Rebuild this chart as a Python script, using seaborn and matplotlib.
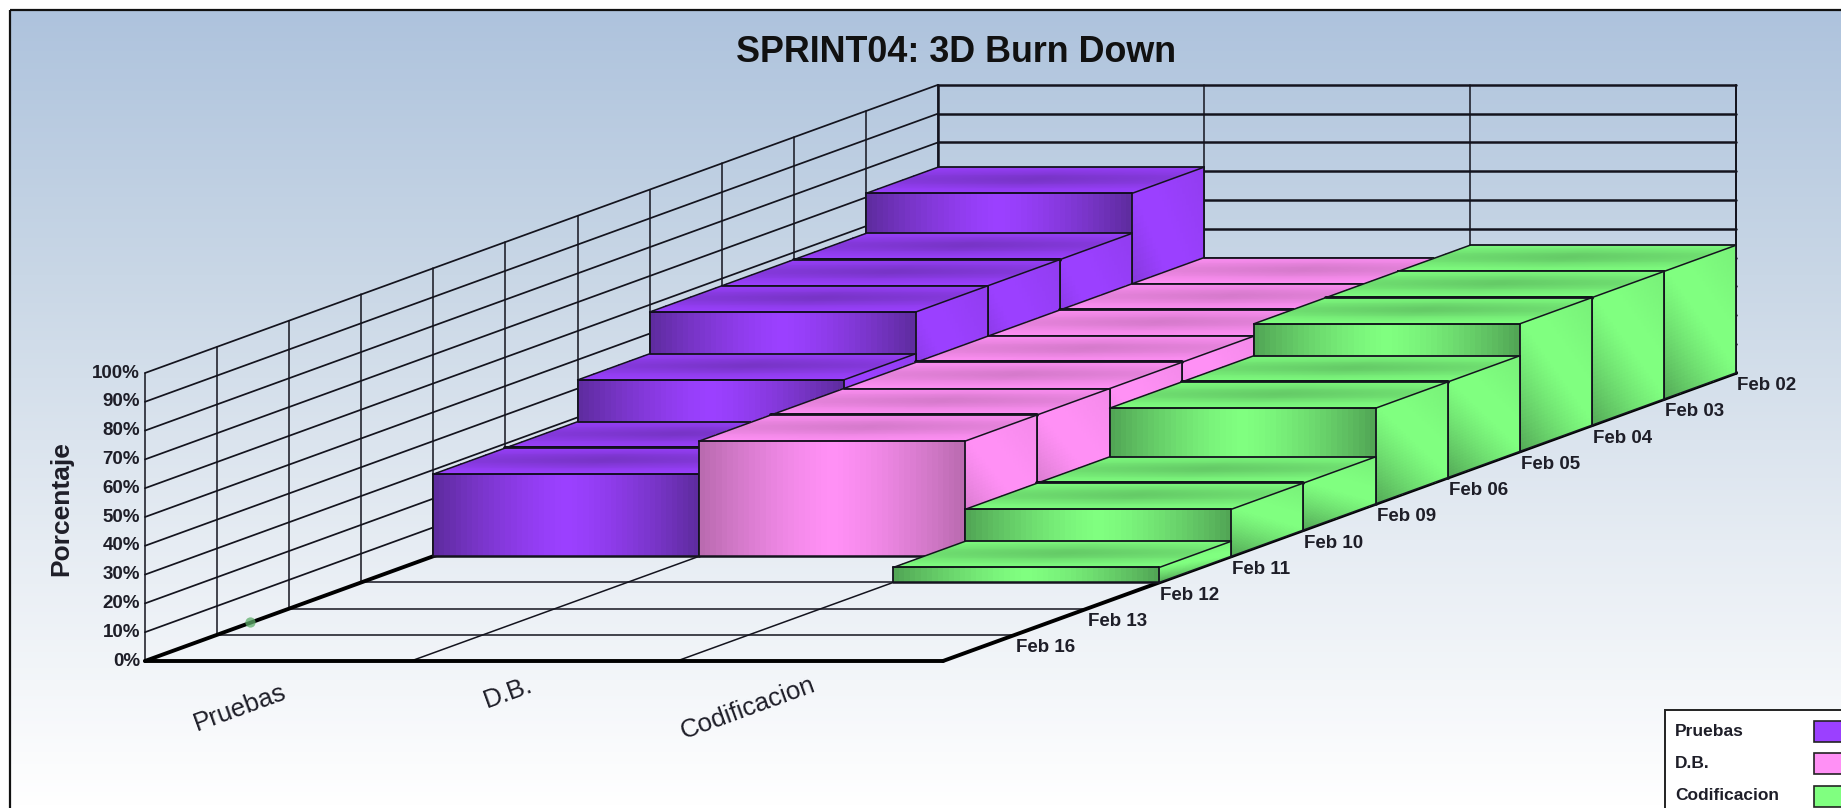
import numpy as np
import seaborn as sns
import matplotlib
matplotlib.use("Agg")
import matplotlib.pyplot as plt
from matplotlib.patches import Rectangle

# ---- data -------------------------------------------------------------
dates = ["Feb 02", "Feb 03", "Feb 04", "Feb 05", "Feb 06", "Feb 09",
         "Feb 10", "Feb 11", "Feb 12", "Feb 13", "Feb 16"]
categories = ["Pruebas", "D.B.", "Codificacion"]
pruebas = [71.4, 57.5, 57.5, 57.5, 43.0, 28.5, 28.5, 0, 0, 0, 0]
db = [40, 40, 40, 40, 40, 40, 40, 0, 0, 0, 0]
codificacion = [44.3, 44.3, 44.3, 33.2, 33.2, 16.3, 16.3, 5.2, 0, 0, 0]
y_ticks = [0, 10, 20, 30, 40, 50, 60, 70, 80, 90, 100]
title = "SPRINT04: 3D Burn Down"
y_label = "Porcentaje"

bright = ["#9B40FF", "#FF90F5", "#80FF80"]
dark = ["#5A2A98", "#B468AA", "#4E9F52"]

# ---- oblique projection of (category, depth, percent) on the canvas ----
W, H = 1841, 808
X0, Y0 = 145.0, 661.0
CAT_DX = 266.0
DEPTH_DX, DEPTH_DY = 72.1, 26.2
PCT_DY = 2.88


def proj(cat, depth, pct):
    return X0 + cat * CAT_DX + depth * DEPTH_DX, Y0 - depth * DEPTH_DY - pct * PCT_DY


sns.set_theme(style="white")
plt.rcParams["font.family"] = ["Liberation Sans", "DejaVu Sans"]
fig = plt.figure(figsize=(W / 100, H / 100), dpi=100)
fig.patch.set_facecolor("white")
ax = fig.add_axes([0, 0, 1, 1])
ax.set_xlim(0, W)
ax.set_ylim(H, 0)
ax.axis("off")

# background
bg_cmap = sns.blend_palette(["#AEC3DD", "#C9D7E6", "#E6ECF3", "#FFFFFF"], as_cmap=True)
bg = ax.imshow(np.linspace(0, 1, 256)[:, None], cmap=bg_cmap, aspect="auto",
               extent=(10, W, H, 10), zorder=0)
ax.set_xlim(0, W)
ax.set_ylim(H, 0)
ax.add_patch(Rectangle((10, 10), W, H, fill=False, ec="#111111", lw=1.6, zorder=1))

LINE = "#14141E"
z = 2
n_d = len(dates)
n_c = len(categories)


def seg(a, b, lw=1.0, color=LINE):
    global z
    ax.plot([a[0], b[0]], [a[1], b[1]], color=color, lw=lw, solid_capstyle="round", zorder=z)
    z += 0.001


# left wall
for t in y_ticks:
    seg(proj(0, 0, t), proj(0, n_d, t), 1.25)
for d in range(0, n_d + 1):
    seg(proj(0, d, 0), proj(0, d, 100), 1.1)
# back wall
for t in y_ticks:
    seg(proj(0, n_d, t), proj(n_c, n_d, t), 1.8)
for c in range(0, n_c + 1):
    seg(proj(c, n_d, 0), proj(c, n_d, 100), 1.1 if 0 < c else 1.8)
seg(proj(n_c, n_d, 0), proj(n_c, n_d, 100), 1.4)
# floor
for d in range(1, n_d):
    seg(proj(0, d, 0), proj(n_c, d, 0), 1.1)
for c in range(1, n_c):
    seg(proj(c, 0, 0), proj(c, n_d, 0), 1.1)
seg(proj(0, 0, 0), proj(n_c, 0, 0), 2.8, "black")
seg(proj(0, 0, 0), proj(0, n_d, 0), 2.8, "black")
seg(proj(n_c, 0, 0), proj(n_c, n_d, 0), 2.8, "black")

# tiny green speck on the floor
sx, sy = proj(0, 1.5, 0)
ax.scatter([sx - 3], [sy], s=55, marker="o", color="#5FAE6A", alpha=0.75, lw=0, zorder=z)
z += 0.001


def face(p00, p10, p01, p11, cmap, shade, nu=48, nv=32):
    """Paint a parallelogram with shade(u, v) sampled on its surface."""
    global z
    u, v = np.meshgrid(np.linspace(0, 1, nu + 1), np.linspace(0, 1, nv + 1))
    px = np.array([p00[0], p10[0], p01[0], p11[0]])
    py = np.array([p00[1], p10[1], p01[1], p11[1]])
    wts = [(1 - u) * (1 - v), u * (1 - v), (1 - u) * v, u * v]
    X = sum(w * p for w, p in zip(wts, px))
    Y = sum(w * p for w, p in zip(wts, py))
    uc = (u[:-1, :-1] + u[1:, 1:]) / 2
    vc = (v[:-1, :-1] + v[1:, 1:]) / 2
    ax.pcolormesh(X, Y, shade(uc, vc), cmap=cmap, vmin=0, vmax=1, shading="flat",
                  linewidth=0, antialiased=False, zorder=z)
    z += 0.001


def front_shade(u, v):
    return np.clip(np.abs(2 * u - 1) ** 1.4 * 0.95, 0, 1)


def top_shade(u, v):
    return np.clip(0.55 * np.exp(-((v - 0.45) / 0.34) ** 2) * (1 - 0.35 * np.abs(2 * u - 1)), 0, 1)


def side_shade(u, v):
    diag = u + (1 - v)
    return np.clip(0.9 * np.clip(1 - diag * 0.95, 0, 1) ** 1.2 + 0.22 * np.clip(diag - 1.3, 0, 1), 0, 1)


series = [pruebas, db, codificacion]
for c, values in enumerate(series):
    cmap = sns.blend_palette([bright[c], dark[c]], as_cmap=True)
    for i, val in enumerate(values):          # from the back to the front
        if val <= 0:
            continue
        d = n_d - 1 - i
        a0, a1 = proj(c, d, 0), proj(c + 1, d, 0)
        t0, t1 = proj(c, d, val), proj(c + 1, d, val)
        b0, b1 = proj(c, d + 1, val), proj(c + 1, d + 1, val)
        g1 = proj(c + 1, d + 1, 0)
        face(t0, t1, a0, a1, cmap, front_shade)
        face(b0, b1, t0, t1, cmap, top_shade)
        face(t1, b1, a1, g1, cmap, side_shade)
        seg(a0, t0, 1.3)
        seg(a1, t1, 1.3)
        seg(a0, a1, 1.8)
        same_as_front = i + 1 < n_d and values[i + 1] == val
        seg(t0, t1, 2.8 if same_as_front and d % 2 == 1 else 1.3, "#0A0A14")
        seg(b0, b1, 1.3)
        seg(t0, b0, 1.1)
        seg(t1, b1, 1.1)
        seg(b1, g1, 1.3)
        seg(a1, g1, 1.1)

# ---- text ---------------------------------------------------------------
TXT = "#1E1E28"
ax.text(956, 52, title, ha="center", va="center", fontsize=25.8, fontweight="bold", color="#111111", zorder=50)
for t in y_ticks:
    px_, py_ = proj(0, 0, t)
    ax.text(px_ - 5, py_, f"{t}%", ha="right", va="center", fontsize=13.5, fontweight="bold", color=TXT, zorder=50)
ax.text(61, 509, y_label, rotation=90, ha="center", va="center", fontsize=19, fontweight="bold", color=TXT, zorder=50)
for i, name in enumerate(dates):
    d = n_d - 1 - i
    px_, py_ = proj(n_c, d + 1, 0)
    ax.text(px_ + 1, py_ + 13, name, ha="left", va="center", fontsize=13.5, fontweight="bold", color=TXT, zorder=50)
label_xy = [(240, 708), (508, 693), (748, 708)]
for name, (lx, ly) in zip(categories, label_xy):
    ax.text(lx, ly, name, rotation=20, rotation_mode="anchor", ha="center", va="center", fontsize=18.7, color=TXT, zorder=50)

# ---- legend --------------------------------------------------------------
ax.add_patch(Rectangle((1665, 710), 200, 120, fc="white", ec="#222222", lw=1.4, zorder=60))
for k, name in enumerate(categories):
    yy = 731 + k * 32.5
    ax.text(1675, yy, name, ha="left", va="center", fontsize=12.5, fontweight="bold", color=TXT, zorder=61)
    ax.add_patch(Rectangle((1814, yy - 10.5), 40, 21, fc=bright[k], ec="#222222", lw=1.2, zorder=61))

fig.savefig("out.png", dpi=100, facecolor="white")
